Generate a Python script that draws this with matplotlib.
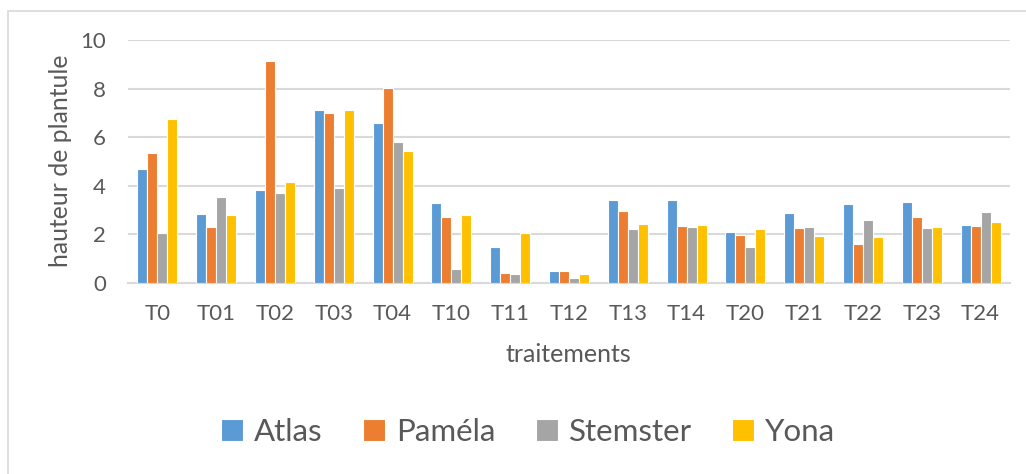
import numpy as np
import matplotlib
matplotlib.use('Agg')
import matplotlib.pyplot as plt
from matplotlib.patches import Rectangle

traitements = ['T0', 'T01', 'T02', 'T03', 'T04', 'T10', 'T11', 'T12', 'T13', 'T14',
               'T20', 'T21', 'T22', 'T23', 'T24']
atlas = [4.68, 2.82, 3.84, 7.11, 6.59, 3.29, 1.49, 0.48, 3.42, 3.42, 2.10, 2.89, 3.26, 3.34, 2.38]
pamela = [5.34, 2.32, 9.14, 6.99, 8.04, 2.70, 0.42, 0.51, 2.97, 2.34, 1.99, 2.27, 1.62, 2.71, 2.36]
stemster = [2.07, 3.53, 3.70, 3.92, 5.81, 0.59, 0.38, 0.19, 2.23, 2.32, 1.49, 2.32, 2.58, 2.25, 2.92]
yona = [6.73, 2.81, 4.16, 7.12, 5.45, 2.78, 2.05, 0.38, 2.41, 2.38, 2.21, 1.92, 1.90, 2.32, 2.53]

series = [('Atlas', atlas, '#5B9BD5'), ('Paméla', pamela, '#ED7D31'),
          ('Stemster', stemster, '#A5A5A5'), ('Yona', yona, '#FFC000')]

plt.rcParams['font.family'] = ['Lato', 'DejaVu Sans']
texte = '#595959'
W, H = 1026, 474

fig = plt.figure(figsize=(W / 100, H / 100), dpi=100)
fig.patches.append(Rectangle((8 / W, -0.1), 1.2, 1 - 11 / H + 0.1, transform=fig.transFigure,
                             fill=False, edgecolor='#d9d9d9', linewidth=1.2))
ax = fig.add_axes([128 / W, 1 - 283 / H, 882 / W, 243 / H])

x = np.arange(len(traitements))
w = 0.17
for i, (nom, vals, couleur) in enumerate(series):
    ax.bar(x + (i - 1.5) * w, vals, w, color=couleur, edgecolor='white', linewidth=0.8, label=nom, zorder=3)

ax.set_xlim(-0.5, len(traitements) - 0.5)
ax.set_ylim(0, 10)
ax.set_yticks([0, 2, 4, 6, 8, 10])
ax.set_xticks(x)
ax.set_xticklabels(traitements)
ax.yaxis.grid(True, color='#d9d9d9', linewidth=1.5, zorder=0)
ax.tick_params(axis='both', length=0, labelsize=16, labelcolor=texte)
ax.tick_params(axis='y', pad=16)
ax.tick_params(axis='x', pad=15)
for s in ['top', 'right', 'left']:
    ax.spines[s].set_visible(False)
ax.spines['bottom'].set_color('#d9d9d9')
ax.spines['bottom'].set_linewidth(1.5)

# titres des axes
fig.text(568 / W, 1 - 354 / H, 'traitements', fontsize=18, color=texte, ha='center', va='center')
fig.text(60 / W, 1 - 161 / H, 'hauteur de plantule', fontsize=17.8, color=texte,
         ha='center', va='center', rotation=90)

fig.legend(loc='center', bbox_to_anchor=(528 / W, 1 - 432 / H), ncol=4, frameon=False,
           fontsize=22.5, labelcolor=texte, handlelength=0.7, handleheight=0.7,
           handletextpad=0.35, columnspacing=1.3)

fig.savefig('out.png', dpi=100)
